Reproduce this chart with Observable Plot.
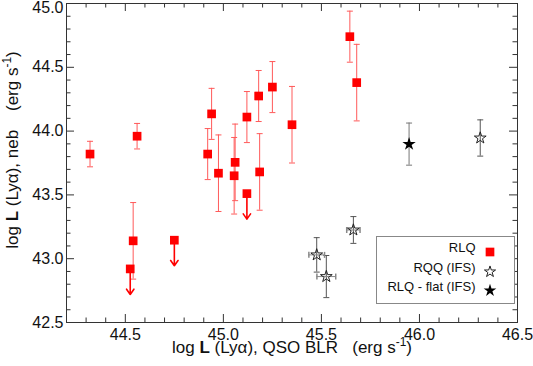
<!DOCTYPE html>
<html><head><meta charset="utf-8">
<script src="https://cdn.jsdelivr.net/npm/d3@7"></script>
<script src="https://cdn.jsdelivr.net/npm/@observablehq/plot@0.6"></script>
<style>
html,body{margin:0;padding:0;background:#fff;}
svg text{white-space:pre;}
</style></head><body><div id="chart"></div>
<script>
// ---- data ----
// RLQ detections with symmetric y errors
const rlqX   = [44.32, 44.56, 44.54, 44.92, 44.94, 44.975, 45.06, 45.055, 45.12, 45.18, 45.185, 45.25, 45.35, 45.645, 45.68];
const rlqY   = [43.82, 43.96, 43.14, 43.82, 44.135, 43.67, 43.755, 43.65, 44.11, 44.275, 43.68, 44.345, 44.05, 44.74, 44.38];
const rlqErr = [0.10, 0.10, 0.30, 0.20, 0.20, 0.30, 0.30, 0.30, 0.20, 0.20, 0.30, 0.20, 0.30, 0.20, 0.30];
// RLQ upper limits
const limX = [44.525, 44.75, 45.12];
const limY = [42.92, 43.145, 43.51];
const limArrow = 0.2;
// RQQ (IFS)
const rqqX    = [45.663, 45.476, 45.525, 46.31];
const rqqY    = [43.225, 43.03, 42.86, 43.946];
const rqqYErr = [0.105, 0.135, 0.165, 0.142];
const rqqXErr = [0.034, 0.04, 0.048, 0];
// RLQ - flat (IFS)
const flatX = [45.947];
const flatY = [43.898];
const flatYErr = [0.165];
// axes
const xDomain = [44.2, 46.5];
const yDomain = [42.5, 45.0];
const xMajor = [44.5, 45.0, 45.5, 46.0, 46.5];
const yMajor = [42.5, 43.0, 43.5, 44.0, 44.5, 45.0];
const xMinor = [44.3, 44.4, 44.6, 44.7, 44.8, 44.9, 45.1, 45.2, 45.3, 45.4, 45.6, 45.7, 45.8, 45.9, 46.1, 46.2, 46.3, 46.4];
const yMinor = [42.6, 42.7, 42.8, 42.9, 43.1, 43.2, 43.3, 43.4, 43.6, 43.7, 43.8, 43.9, 44.1, 44.2, 44.3, 44.4, 44.6, 44.7, 44.8, 44.9];
const xTitle = "log L (Lyα), QSO BLR   (erg s-1)";
const yTitle = "log L (Lyα), neb    (erg s-1)";
const legendLabels = ["RLQ", "RQQ (IFS)", "RLQ - flat (IFS)"];

// ---- layout ----
const W = 533, H = 366;
const mL = 66, mR = 16, mT = 3, mB = 44;
const PW = W - mL - mR, PH = H - mT - mB;

const rlq = rlqX.map((x, i) => ({x, y: rlqY[i], e: rlqErr[i]}));
const lim = limX.map((x, i) => ({x, y: limY[i]}));
const rqq = rqqX.map((x, i) => ({x, y: rqqY[i], e: rqqYErr[i], ex: rqqXErr[i]}));
const rqqX2 = rqq.filter(d => d.ex > 0);
const flat = flatX.map((x, i) => ({x, y: flatY[i], e: flatYErr[i]}));

const capH = {draw(ctx, size) { const r = Math.sqrt(size / Math.PI); ctx.moveTo(-r, 0); ctx.lineTo(r, 0); }};
const capV = {draw(ctx, size) { const r = Math.sqrt(size / Math.PI); ctx.moveTo(0, -r); ctx.lineTo(0, r); }};

const red = "#ff0000", redBar = "#ff5a5a", gray = "#555";
const axisCol = "#333";
const tickMaj = 8, tickMin = 4.5;
const fmt = d3.format(".1f");

function yErrBars(data, color) {
  return [
    Plot.ruleX(data, {x: "x", y1: d => d.y - d.e, y2: d => d.y + d.e, stroke: color, strokeWidth: 1}),
    Plot.dot(data, {x: "x", y: d => d.y + d.e, symbol: capH, r: 3, stroke: color, strokeWidth: 1}),
    Plot.dot(data, {x: "x", y: d => d.y - d.e, symbol: capH, r: 3, stroke: color, strokeWidth: 1})
  ];
}

const legendDy = [-70.5, -50.7, -32];
const legendMarks = [];
legendLabels.forEach((lab, i) => {
  legendMarks.push(Plot.text([lab], {text: d => d, frameAnchor: "bottom-right", dx: -42, dy: legendDy[i], textAnchor: "end", fontSize: 13, fill: "#111"}));
});
legendMarks.push(Plot.dot([0], {frameAnchor: "bottom-right", dx: -27.5, dy: legendDy[0], symbol: "square", r: 4.9, fill: red, stroke: "none"}));
legendMarks.push(Plot.dot([0], {frameAnchor: "bottom-right", dx: -27.5, dy: legendDy[1], symbol: "star", r: 3.5, fill: "none", stroke: "#222", strokeWidth: 1}));
legendMarks.push(Plot.dot([0], {frameAnchor: "bottom-right", dx: -27.5, dy: legendDy[2], symbol: "star", r: 4, fill: "#000", stroke: "none"}));

const chart = Plot.plot({
  width: W, height: H,
  marginLeft: mL, marginRight: mR, marginTop: mT, marginBottom: mB,
  style: {fontFamily: "'Liberation Sans', Arial, Helvetica, sans-serif", fontSize: "16px", color: "#111", background: "#fff"},
  x: {domain: xDomain, label: null},
  y: {domain: yDomain, label: null},
  marks: [
    // tick marks (inward) on all four sides
    Plot.ruleX(xMajor, {x: d => d, insetTop: PH - tickMaj, stroke: axisCol}),
    Plot.ruleX(xMajor, {x: d => d, insetBottom: PH - tickMaj, stroke: axisCol}),
    Plot.ruleX(xMinor, {x: d => d, insetTop: PH - tickMin, stroke: axisCol}),
    Plot.ruleX(xMinor, {x: d => d, insetBottom: PH - tickMin, stroke: axisCol}),
    Plot.ruleY(yMajor, {y: d => d, insetRight: PW - tickMaj, stroke: axisCol}),
    Plot.ruleY(yMajor, {y: d => d, insetLeft: PW - tickMaj, stroke: axisCol}),
    Plot.ruleY(yMinor, {y: d => d, insetRight: PW - tickMin, stroke: axisCol}),
    Plot.ruleY(yMinor, {y: d => d, insetLeft: PW - tickMin, stroke: axisCol}),
    Plot.frame({stroke: axisCol}),
    Plot.axisX({ticks: xMajor, tickSize: 0, tickPadding: 6, tickFormat: fmt, label: null, fontSize: 16, fill: "#111"}),
    Plot.axisY({ticks: yMajor.slice(0, -1), tickSize: 0, tickPadding: 3, tickFormat: fmt, label: null, fontSize: 16, fill: "#111"}),
    Plot.axisY({ticks: yMajor.slice(-1), tickSize: 0, tickPadding: 3, tickFormat: fmt, label: null, fontSize: 16, fill: "#111", dy: 4}),
    // RLQ
    ...yErrBars(rlq, redBar),
    Plot.arrow(lim, {x1: "x", y1: "y", x2: "x", y2: d => d.y - limArrow, stroke: red, strokeWidth: 1.6, headLength: 6, headAngle: 70}),
    Plot.dot(rlq, {x: "x", y: "y", symbol: "square", r: 4.9, fill: red, stroke: "none"}),
    Plot.dot(lim, {x: "x", y: "y", symbol: "square", r: 4.9, fill: red, stroke: "none"}),
    // RQQ
    ...yErrBars(rqq, gray),
    Plot.ruleY(rqqX2, {y: "y", x1: d => d.x - d.ex, x2: d => d.x + d.ex, stroke: "#888", strokeWidth: 1}),
    Plot.dot(rqqX2, {x: d => d.x - d.ex, y: "y", symbol: capV, r: 3, stroke: "#888"}),
    Plot.dot(rqqX2, {x: d => d.x + d.ex, y: "y", symbol: capV, r: 3, stroke: "#888"}),
    Plot.dot(rqq, {x: "x", y: "y", symbol: "star", r: 3.7, fill: "none", stroke: "#222", strokeWidth: 1}),
    // RLQ flat
    ...yErrBars(flat, "#777"),
    Plot.dot(flat, {x: "x", y: "y", symbol: "star", r: 4.2, fill: "#000", stroke: "none"}),
    // legend
    Plot.frame({insetLeft: 310, insetTop: 233, insetRight: 3, insetBottom: 19, stroke: "#888", fill: "#fff"}),
    ...legendMarks,
    // axis titles
    Plot.text([xTitle], {text: d => d, frameAnchor: "bottom", dy: 30, textAnchor: "middle", fontSize: 17, fill: "#111"}),
    Plot.text([yTitle], {text: d => d, frameAnchor: "left", dx: -54, dy: -13, rotate: -90, textAnchor: "middle", fontSize: 17, fill: "#111"})
  ]
});

function richTitle(svg, plain, parts) {
  d3.select(svg).selectAll("text").filter(function() { return this.textContent === plain; }).each(function() {
    const t = d3.select(this);
    t.text(null);
    for (const p of parts) {
      const s = t.append("tspan").text(p.t);
      if (p.bold) s.attr("font-weight", "bold");
      if (p.sup) s.attr("baseline-shift", "super").attr("font-size", "0.7em");
    }
  });
}
richTitle(chart, xTitle, [{t: "log "}, {t: "L", bold: true}, {t: " (Lyα), QSO BLR   (erg s"}, {t: "-1", sup: true}, {t: ")"}]);
richTitle(chart, yTitle, [{t: "log "}, {t: "L", bold: true}, {t: " (Lyα), neb    (erg s"}, {t: "-1", sup: true}, {t: ")"}]);

document.getElementById("chart").appendChild(chart);
</script></body></html>
